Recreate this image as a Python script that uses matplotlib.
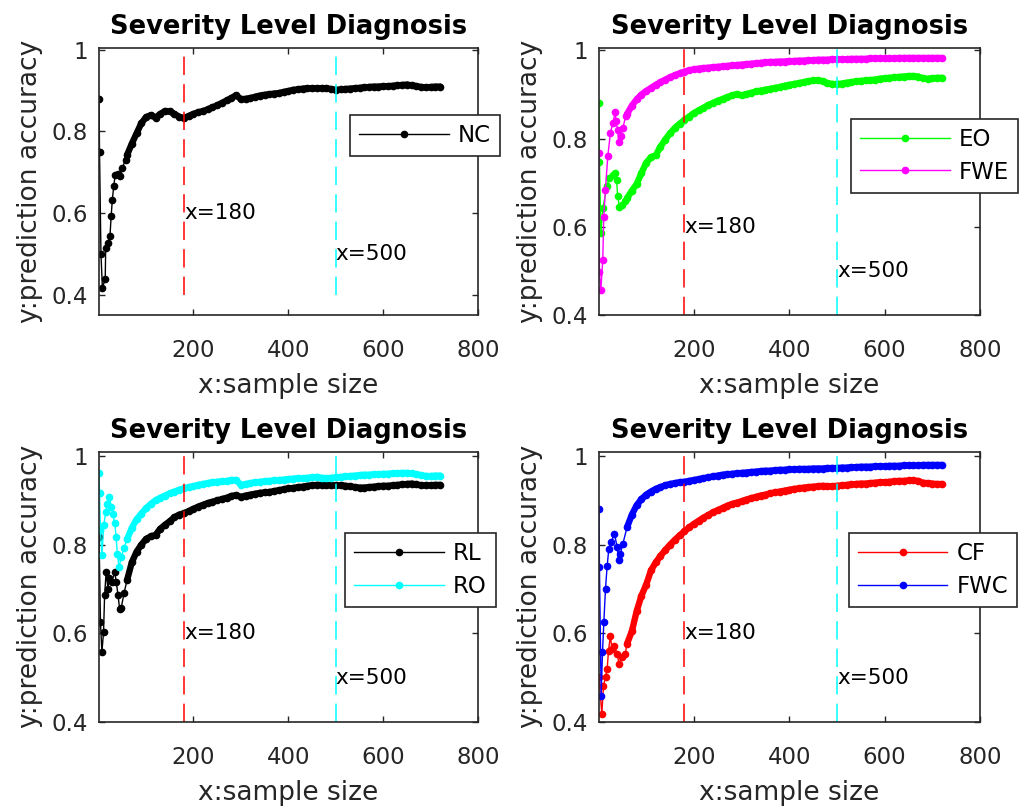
import numpy as np
import matplotlib
matplotlib.use('Agg')
import matplotlib.pyplot as plt

# sample sizes of the dense part of every curve
DENSE_X = list(range(60, 721, 10))

# ---- panel 1: NC ----
NC_X0 = [1, 2, 5, 8, 14, 15, 19, 24, 26.5, 29, 32, 35, 40, 45, 50, 57]
NC_Y0 = [0.880, 0.750, 0.500, 0.417, 0.437, 0.515, 0.527, 0.543, 0.592, 0.633,
         0.666, 0.694, 0.696, 0.692, 0.711, 0.731]
NC_Y = [0.742, 0.770, 0.795, 0.820, 0.835, 0.840, 0.834, 0.843, 0.850, 0.849,
        0.843, 0.836, 0.833, 0.838, 0.843, 0.847, 0.850, 0.854, 0.859, 0.864,
        0.870, 0.876, 0.882, 0.889, 0.879, 0.880, 0.882, 0.885, 0.888, 0.890,
        0.891, 0.893, 0.894, 0.897, 0.899, 0.902, 0.903, 0.905, 0.906, 0.906,
        0.906, 0.906, 0.906, 0.904, 0.902, 0.903, 0.904, 0.905, 0.906, 0.907,
        0.908, 0.909, 0.910, 0.910, 0.911, 0.911, 0.912, 0.913, 0.914, 0.915,
        0.913, 0.911, 0.909, 0.908, 0.909, 0.910, 0.910]

# ---- panel 2: EO, FWE ----
EO_X0 = [1, 2, 5, 9, 18, 23, 30, 35, 38, 40, 44, 50, 55]
EO_Y0 = [0.881, 0.748, 0.585, 0.642, 0.692, 0.711, 0.718, 0.723, 0.707, 0.670,
         0.646, 0.650, 0.658]
EO_Y = [0.665, 0.682, 0.697, 0.722, 0.745, 0.758, 0.762, 0.782, 0.798, 0.812,
        0.824, 0.834, 0.842, 0.850, 0.858, 0.864, 0.870, 0.876, 0.881, 0.886,
        0.890, 0.894, 0.898, 0.901, 0.898, 0.901, 0.904, 0.907, 0.909, 0.911,
        0.913, 0.915, 0.917, 0.920, 0.922, 0.924, 0.926, 0.928, 0.930, 0.932,
        0.933, 0.930, 0.926, 0.924, 0.924, 0.925, 0.927, 0.928, 0.930, 0.931,
        0.932, 0.933, 0.934, 0.936, 0.937, 0.938, 0.939, 0.940, 0.941, 0.942,
        0.942, 0.941, 0.937, 0.936, 0.937, 0.938, 0.938]

FWE_X0 = [1, 2, 5, 9, 11, 14.5, 19.5, 25, 30, 35, 37, 40, 42.5, 47, 51, 57]
FWE_Y0 = [0.768, 0.498, 0.457, 0.525, 0.623, 0.684, 0.760, 0.813, 0.836, 0.860,
          0.839, 0.820, 0.792, 0.805, 0.824, 0.851]
FWE_Y = [0.856, 0.875, 0.889, 0.900, 0.908, 0.915, 0.922, 0.928, 0.934, 0.939,
         0.944, 0.948, 0.952, 0.955, 0.957, 0.959, 0.960, 0.961, 0.962, 0.963,
         0.964, 0.965, 0.966, 0.967, 0.968, 0.969, 0.970, 0.971, 0.972, 0.973,
         0.974, 0.974, 0.975, 0.975, 0.976, 0.976, 0.977, 0.977, 0.978, 0.978,
         0.979, 0.979, 0.979, 0.980, 0.980, 0.980, 0.980, 0.981, 0.981, 0.981,
         0.981, 0.982, 0.982, 0.982, 0.982, 0.982, 0.982, 0.983, 0.983, 0.983,
         0.983, 0.983, 0.983, 0.983, 0.983, 0.983, 0.983]

# ---- panel 3: RL, RO ----
RL_X0 = [1, 4, 7, 10.5, 12.7, 16, 19.7, 23, 28, 33.8, 37.3, 41, 44.3, 47.8, 53.5]
RL_Y0 = [0.818, 0.626, 0.558, 0.603, 0.686, 0.739, 0.701, 0.724, 0.716, 0.739,
         0.716, 0.686, 0.656, 0.658, 0.690]
RL_Y = [0.720, 0.760, 0.784, 0.800, 0.813, 0.819, 0.822, 0.836, 0.845, 0.853,
        0.862, 0.868, 0.871, 0.876, 0.881, 0.886, 0.890, 0.894, 0.897, 0.900,
        0.903, 0.906, 0.910, 0.912, 0.908, 0.911, 0.913, 0.915, 0.917, 0.918,
        0.919, 0.921, 0.923, 0.925, 0.927, 0.928, 0.930, 0.931, 0.933, 0.934,
        0.935, 0.935, 0.934, 0.934, 0.934, 0.934, 0.933, 0.932, 0.930, 0.929,
        0.929, 0.930, 0.931, 0.932, 0.933, 0.933, 0.934, 0.935, 0.936, 0.937,
        0.938, 0.936, 0.934, 0.934, 0.934, 0.935, 0.935]

RO_X0 = [1, 2, 4, 7, 11, 15, 18, 23, 27, 30, 34, 37, 39.5, 43, 48, 53]
RO_Y0 = [0.961, 0.917, 0.833, 0.776, 0.844, 0.874, 0.893, 0.908, 0.885, 0.870,
         0.848, 0.818, 0.780, 0.750, 0.772, 0.792]
RO_Y = [0.812, 0.838, 0.857, 0.870, 0.882, 0.892, 0.900, 0.906, 0.911, 0.916,
        0.920, 0.924, 0.927, 0.930, 0.932, 0.935, 0.937, 0.939, 0.941, 0.942,
        0.943, 0.944, 0.946, 0.946, 0.935, 0.937, 0.939, 0.941, 0.942, 0.943,
        0.944, 0.945, 0.946, 0.947, 0.948, 0.949, 0.950, 0.950, 0.951, 0.952,
        0.953, 0.951, 0.950, 0.951, 0.952, 0.953, 0.954, 0.955, 0.956, 0.957,
        0.958, 0.958, 0.959, 0.959, 0.960, 0.960, 0.961, 0.961, 0.962, 0.962,
        0.961, 0.959, 0.957, 0.955, 0.955, 0.956, 0.956]

# ---- panel 4: CF, FWC ----
CF_X0 = [1, 7, 10.5, 14.7, 18.2, 21, 25, 28, 33.5, 39, 43, 49, 56]
CF_Y0 = [0.501, 0.418, 0.482, 0.501, 0.520, 0.561, 0.595, 0.565, 0.572, 0.554,
         0.532, 0.546, 0.554]
CF_Y = [0.577, 0.605, 0.650, 0.685, 0.710, 0.742, 0.760, 0.775, 0.788, 0.800,
        0.811, 0.821, 0.830, 0.839, 0.847, 0.854, 0.861, 0.867, 0.873, 0.878,
        0.883, 0.888, 0.892, 0.895, 0.898, 0.902, 0.905, 0.908, 0.911, 0.913,
        0.916, 0.918, 0.920, 0.922, 0.924, 0.926, 0.927, 0.929, 0.930, 0.931,
        0.932, 0.933, 0.932, 0.932, 0.933, 0.934, 0.935, 0.936, 0.937, 0.938,
        0.938, 0.939, 0.940, 0.941, 0.941, 0.942, 0.943, 0.944, 0.944, 0.945,
        0.945, 0.944, 0.940, 0.939, 0.938, 0.937, 0.937]

FWC_X0 = [1, 2, 5.6, 8.4, 11.2, 14.7, 18.2, 21.7, 26.6, 33.5, 39, 42, 46, 51]
FWC_Y0 = [0.881, 0.749, 0.459, 0.557, 0.625, 0.701, 0.753, 0.791, 0.806, 0.825,
          0.795, 0.765, 0.780, 0.802]
FWC_Y = [0.840, 0.868, 0.889, 0.903, 0.913, 0.920, 0.926, 0.930, 0.934, 0.937,
         0.939, 0.941, 0.942, 0.944, 0.946, 0.948, 0.950, 0.952, 0.954, 0.956,
         0.958, 0.959, 0.960, 0.961, 0.962, 0.963, 0.964, 0.965, 0.966, 0.967,
         0.967, 0.968, 0.969, 0.969, 0.970, 0.970, 0.971, 0.971, 0.971, 0.972,
         0.972, 0.972, 0.973, 0.973, 0.973, 0.974, 0.974, 0.975, 0.975, 0.976,
         0.976, 0.976, 0.977, 0.977, 0.977, 0.978, 0.978, 0.978, 0.979, 0.979,
         0.979, 0.979, 0.980, 0.980, 0.980, 0.980, 0.980]

GRAY = '0.15'
GREEN = (0, 1, 0)
MAGENTA = (1, 0, 1)
CYAN = (0, 1, 1)


def draw_panel(ax, series, ylim, anchor):
    lines = []
    for x0, y0, y, color, label in series:
        line, = ax.plot(list(x0) + DENSE_X, list(y0) + y, '-', color=color,
                        marker='.', markersize=9, linewidth=1.0, label=label)
        # the markers are packed so densely there that they merge into a thick band
        ax.plot(DENSE_X, y, '-', color=color, linewidth=4.6,
                solid_capstyle='round', solid_joinstyle='round')
        lines.append(line)
    ax.plot([180, 180], [0.4, 1.01], color='r', lw=1.1, dashes=(12, 6))
    ax.plot([500, 500], [0.4, 1.01], color=CYAN, lw=1.1, dashes=(12, 6))
    ax.text(180, 0.6, 'x=180', fontsize=15.5, ha='left', va='center')
    ax.text(500, 0.5, 'x=500', fontsize=15.5, ha='left', va='center')

    ax.set_xlim(1, 800)
    ax.set_ylim(*ylim)
    ax.set_xticks([200, 400, 600, 800])
    ax.set_yticks([0.4, 0.6, 0.8, 1.0])
    ax.set_yticklabels(['0.4', '0.6', '0.8', '1'])
    ax.tick_params(direction='in', top=True, right=True, length=4, width=1,
                   colors=GRAY, labelsize=16.5)
    ax.tick_params(axis='x', pad=17)
    ax.tick_params(axis='y', pad=8)
    for sp in ax.spines.values():
        sp.set_color(GRAY)
        sp.set_linewidth(1.2)

    ax.set_title('Severity Level Diagnosis', fontsize=18.5, fontweight='bold', pad=10)
    ax.set_xlabel('x:sample size', fontsize=19, color=GRAY, labelpad=8)
    ax.set_ylabel('y:prediction accuracy', fontsize=19, color=GRAY, labelpad=6)

    leg = ax.legend(handles=lines, loc='upper right', bbox_to_anchor=anchor,
                    borderaxespad=0, fontsize=16.5, fancybox=False, framealpha=1,
                    edgecolor=GRAY, handlelength=3.9, handletextpad=0.4,
                    borderpad=0.4, labelspacing=0.4)
    leg.get_frame().set_linewidth(1.2)


fig = plt.figure(figsize=(10.19, 8.07), dpi=100)

ax1 = fig.add_axes([0.0972, 0.6097, 0.372, 0.331])
ax2 = fig.add_axes([0.5878, 0.6097, 0.374, 0.331])
ax3 = fig.add_axes([0.0972, 0.1053, 0.372, 0.335])
ax4 = fig.add_axes([0.5878, 0.1053, 0.374, 0.335])

draw_panel(ax1, [(NC_X0, NC_Y0, NC_Y, 'k', 'NC')], (0.35, 1.005), (1.058, 0.749))
draw_panel(ax2, [(EO_X0, EO_Y0, EO_Y, GREEN, 'EO'),
                 (FWE_X0, FWE_Y0, FWE_Y, MAGENTA, 'FWE')], (0.4, 1.006), (1.10, 0.733))
draw_panel(ax3, [(RL_X0, RL_Y0, RL_Y, 'k', 'RL'),
                 (RO_X0, RO_Y0, RO_Y, CYAN, 'RO')], (0.4, 1.01), (1.047, 0.698))
draw_panel(ax4, [(CF_X0, CF_Y0, CF_Y, 'r', 'CF'),
                 (FWC_X0, FWC_Y0, FWC_Y, 'b', 'FWC')], (0.4, 1.01), (1.098, 0.698))

fig.savefig('out.png', dpi=100)
